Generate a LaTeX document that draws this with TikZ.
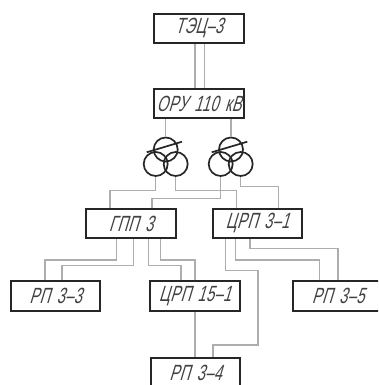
\documentclass[tikz,border=0pt]{standalone}
\usepackage{fontspec}
\newfontfamily\gost[FakeSlant=0.3,FakeStretch=0.66,WordSpace=1.5,LetterSpace=2]{Liberation Sans}
\tikzset{
  unit/.style={draw=black!85,line width=1.7pt,minimum width=89.5pt,minimum height=29.5pt,inner sep=0pt,font=\gost\fontsize{22}{22}\selectfont,text=black!75},
  feeder/.style={draw=black!32,line width=1.2pt},
  winding/.style={draw=black!85,line width=1.7pt,circle,minimum size=24pt,inner sep=0pt},
  tapslash/.style={draw=black!85,line width=1.7pt}
}
\begin{document}
\begin{tikzpicture}[x=1pt,y=-1pt]
\useasboundingbox (0,0) rectangle (378,385);
\path[clip] (0,0) rectangle (378,385);
\node[unit] (tec) at (199,28.5) {ТЭЦ–3};
\node[unit] (oru) at (199,103.5) {ОРУ 110 кВ};
\node[unit] (gpp) at (131,223.5) {ГПП 3};
\node[unit] (crp31) at (257.5,223.5) {ЦРП 3–1};
\node[unit] (rp33) at (55.5,296) {РП 3–3};
\node[unit] (crp151) at (195,296) {ЦРП 15–1};
\node[unit] (rp35) at (338,296) {РП 3–5};
\node[unit] (rp34) at (195.5,373) {РП 3–4};
\node[winding] (a1) at (165.7,149.5) {};
\node[winding] (a2) at (155.7,164) {};
\node[winding] (a3) at (175.7,164) {};
\node[winding] (b1) at (231,149.5) {};
\node[winding] (b2) at (220.7,164) {};
\node[winding] (b3) at (240.7,164) {};
\coordinate (as) at (146.7,152.3); \coordinate (ae) at (182,141.7);
\coordinate (bs) at (211.7,152.3); \coordinate (be) at (247.3,141.7);
\draw[tapslash] (as) -- (ae);
\draw[tapslash] (bs) -- (be);
\draw[feeder] (tec.south -| 195,0) -- (oru.north -| 195,0);
\draw[feeder] (tec.south -| 204.5,0) -- (oru.north -| 204.5,0);
\draw[feeder] (oru.south -| a1) -- (a1.north);
\draw[feeder] (oru.south -| b1) -- (b1.north);
\draw[feeder] (a2.south) |- (110,190.3) -- (gpp.north -| 110,0);
\draw[feeder] (a3.south) |- (236.7,190.3) -- (crp31.north -| 236.7,0);
\draw[feeder] (b2.south) |- (152,198.3) -- (gpp.north -| 152,0);
\draw[feeder] (b3.south) |- (278.7,186.7) -- (crp31.north -| 278.7,0);
\draw[feeder] (gpp.south -| 116.7,0) |- (45,260) -- (rp33.north -| 45,0);
\draw[feeder] (gpp.south -| 133.7,0) |- (62,265.3) -- (rp33.north -| 62,0);
\draw[feeder] (gpp.south -| 148.3,0) |- (181,265.3) -- (crp151.north -| 181,0);
\draw[feeder] (gpp.south -| 160.7,0) |- (195,260) -- (crp151.north);
\draw[feeder] (crp151.south) -- (rp34.north -| crp151.south);
\draw[feeder] (crp31.south -| 225.7,0) |- (258,270.7) |- (213,345) -- (rp34.north -| 213,0);
\draw[feeder] (crp31.south -| 235.7,0) |- (319.7,260) -- (rp35.north -| 319.7,0);
\draw[feeder] (crp31.south -| 250,0) |- (338,248.3) -- (rp35.north);
\end{tikzpicture}
\end{document}
